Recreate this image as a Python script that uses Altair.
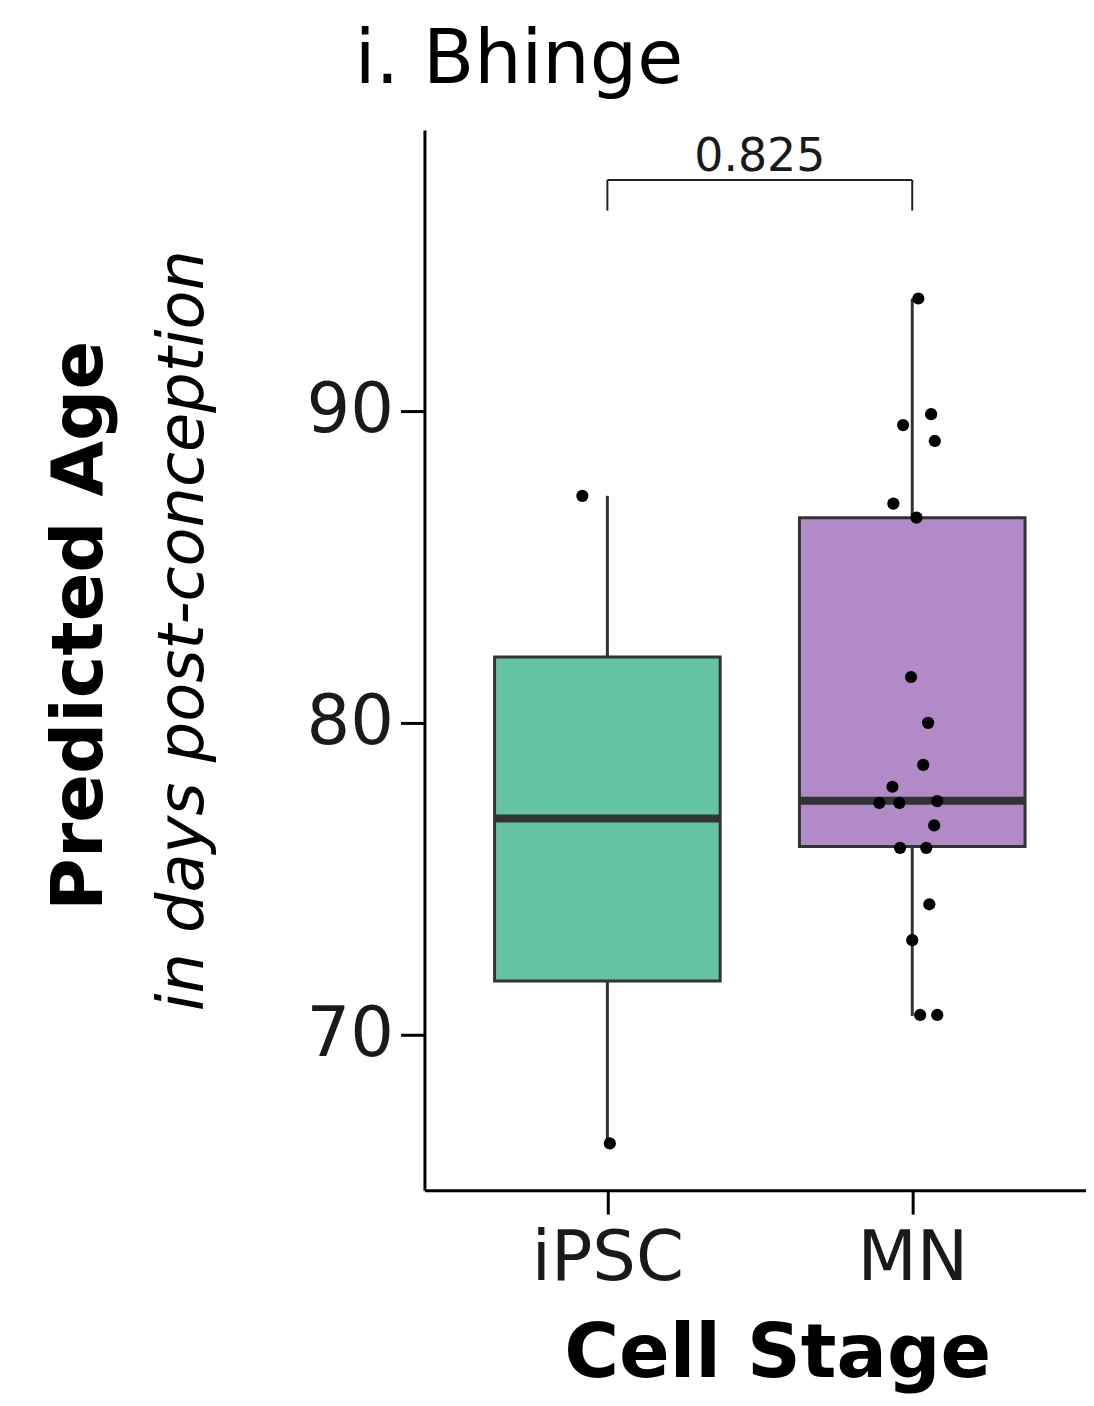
import altair as alt
import pandas as pd

# ---- data ----
categories = ["iPSC", "MN"]
box_colors = ["#66C2A5", "#B28AC8"]
q1 = [71.71, 76.02]
median = [76.92, 77.49]
q3 = [82.10, 86.57]
whisker_low = [66.50, 70.59]
whisker_high = [87.27, 93.60]

pt_stage = ["iPSC", "iPSC"] + ["MN"] * 20
pt_age = [87.27, 66.50,
          93.60, 89.54, 89.89, 89.03, 87.02, 86.57, 81.46, 79.99, 78.64, 77.94,
          77.42, 77.42, 77.48, 76.70, 75.98, 75.98, 74.17, 73.02, 70.62, 70.62]
pt_jitter = [-0.082, 0.008,
             0.020, -0.030, 0.062, 0.074, -0.062, 0.014, -0.004, 0.052, 0.036, -0.065,
             -0.108, -0.042, 0.082, 0.072, -0.040, 0.046, 0.056, 0.000, 0.026, 0.082]

p_value_label = "0.825"
bracket_y = 97.40
bracket_tip = 96.42
label_y = 97.70
y_ticks = [70, 80, 90]
y_domain = [65, 99]

# ---- layout constants ----
W, H = 664, 1064
PX_PER_UNIT = 306.0
x_domain = [0.4, 0.4 + W / PX_PER_UNIT]
HALF_BOX = 0.37
FONT = "DejaVu Sans"
DARK = "#333333"

pos = [i + 1 for i in range(len(categories))]
box_df = pd.DataFrame({
    "stage": categories, "pos": pos,
    "lo": [p - HALF_BOX for p in pos], "hi": [p + HALF_BOX for p in pos],
    "q1": q1, "median": median, "q3": q3,
    "wlo": whisker_low, "whi": whisker_high,
})
pt_df = pd.DataFrame({
    "stage": pt_stage, "age": pt_age,
    "x": [pos[categories.index(s)] + j for s, j in zip(pt_stage, pt_jitter)],
})
br_df = pd.DataFrame({
    "x1": [pos[0]], "x2": [pos[1]], "mid": [(pos[0] + pos[1]) / 2],
    "y": [bracket_y], "tip": [bracket_tip], "ly": [label_y], "label": [p_value_label],
})
tip_df = pd.DataFrame({"x": pos, "y": [bracket_y] * 2, "tip": [bracket_tip] * 2})

label_expr = "[" + ",".join("'%s'" % c for c in categories) + "][datum.value - 1]"

x_scale = alt.Scale(domain=x_domain, nice=False, zero=False)
y_scale = alt.Scale(domain=y_domain, nice=False, zero=False)

x_axis = alt.Axis(
    values=pos, labelExpr=label_expr, grid=False,
    domainColor="black", domainWidth=3, tickColor="black", tickWidth=3, tickSize=24,
    labelFont=FONT, labelFontSize=69, labelColor="#1a1a1a", labelPadding=11,
    labelBaseline="top",
    title="Cell Stage", titleFont=FONT, titleFontSize=75, titleFontWeight="bold",
    titleColor="black", titleX=354, titleY=187, titleAlign="center",
    titleBaseline="alphabetic",
)
y_axis = alt.Axis(
    values=y_ticks, grid=False,
    domainColor="black", domainWidth=3, tickColor="black", tickWidth=3, tickSize=24,
    labelFont=FONT, labelFontSize=69, labelColor="#1a1a1a", labelPadding=7,
    title="in days post-conception", titleFont=FONT, titleFontSize=64,
    titleFontStyle="italic", titleFontWeight="normal", titleColor="black",
    titleAngle=270, titleX=-223, titleY=502, titleAlign="center",
    titleBaseline="alphabetic",
)
y_axis2 = alt.Axis(
    orient="left", labels=False, ticks=False, domain=False, grid=False,
    title="Predicted Age", titleFont=FONT, titleFontSize=72, titleFontWeight="bold",
    titleColor="black", titleAngle=270, titleX=-324, titleY=497, titleAlign="center",
    titleBaseline="alphabetic",
)

base = alt.Chart(box_df)

whisk_lo = base.mark_rule(color=DARK, strokeWidth=3).encode(
    x=alt.X("pos:Q", scale=x_scale, axis=x_axis),
    y=alt.Y("wlo:Q", scale=y_scale, axis=y_axis), y2="q1:Q")
whisk_hi = base.mark_rule(color=DARK, strokeWidth=3).encode(
    x=alt.X("pos:Q", scale=x_scale, axis=x_axis),
    y=alt.Y("q3:Q", scale=y_scale, axis=y_axis), y2="whi:Q")
boxes = base.mark_rect(stroke=DARK, strokeWidth=3, opacity=1).encode(
    x=alt.X("lo:Q", scale=x_scale, axis=x_axis), x2="hi:Q",
    y=alt.Y("q1:Q", scale=y_scale, axis=y_axis), y2="q3:Q",
    color=alt.Color("stage:N", scale=alt.Scale(domain=categories, range=box_colors),
                    legend=None))
medians = base.mark_rule(color=DARK, strokeWidth=8).encode(
    x=alt.X("lo:Q", scale=x_scale, axis=x_axis), x2="hi:Q",
    y=alt.Y("median:Q", scale=y_scale, axis=y_axis))

br_line = alt.Chart(br_df).mark_rule(color="#222222", strokeWidth=2).encode(
    x=alt.X("x1:Q", scale=x_scale, axis=x_axis), x2="x2:Q",
    y=alt.Y("y:Q", scale=y_scale, axis=y_axis))
br_tips = alt.Chart(tip_df).mark_rule(color="#222222", strokeWidth=2).encode(
    x=alt.X("x:Q", scale=x_scale, axis=x_axis),
    y=alt.Y("tip:Q", scale=y_scale, axis=y_axis), y2="y:Q")
br_text = alt.Chart(br_df).mark_text(
    font=FONT, fontSize=46, color="#1a1a1a", align="center", baseline="alphabetic"
).encode(
    x=alt.X("mid:Q", scale=x_scale, axis=x_axis),
    y=alt.Y("ly:Q", scale=y_scale, axis=y_axis), text="label:N")

main = alt.layer(whisk_lo, whisk_hi, boxes, medians, br_line, br_tips, br_text)

points = alt.Chart(pt_df).mark_circle(size=150, color="black", opacity=1).encode(
    x=alt.X("x:Q", scale=x_scale, axis=x_axis),
    y=alt.Y("age:Q", scale=y_scale, axis=y_axis2))

chart = alt.layer(main, points).resolve_scale(y="independent").properties(
    width=W, height=H,
    title=alt.TitleParams("i. Bhinge", anchor="start", frame="group", dx=-70,
                          dy=53, offset=25, baseline="alphabetic", font=FONT,
                          fontSize=75, fontWeight="normal", color="black"),
    autosize=alt.AutoSizeParams(type="none"),
    padding={"left": 418, "top": 120, "right": 0, "bottom": 204},
).configure(background="white").configure_view(stroke=None)

chart.save("out.html", embed_options={"renderer": "svg", "actions": False})
